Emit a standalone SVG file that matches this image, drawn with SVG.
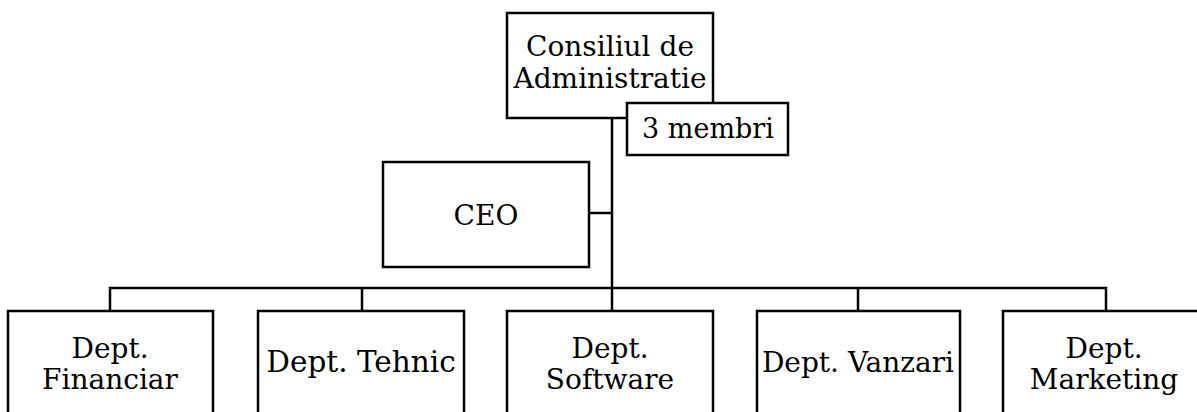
<svg xmlns="http://www.w3.org/2000/svg" width="1197" height="412" viewBox="0 0 1197 412">
<style>
.box{fill:#fff;stroke:#000;stroke-width:2.5}
.ln{fill:none;stroke:#000;stroke-width:2.5}
text{font-family:"DejaVu Serif","Liberation Serif",serif;fill:#000;text-anchor:middle}
.t{font-size:28px}
.w{font-size:29.5px}
.s{font-size:27px}
</style>
<rect width="1197" height="412" fill="#fff"/>
<g id="connectors">
<path class="ln" d="M612,118 V311"/>
<path class="ln" d="M589,213 H612"/>
<path class="ln" d="M110,311 V288 H1106 V311"/>
<path class="ln" d="M362,288 V311"/>
<path class="ln" d="M858,288 V311"/>
</g>
<g id="consiliu">
<rect class="box" x="507" y="13" width="206" height="105"/>
<text class="t" x="610" y="56">Consiliul de</text>
<text class="t" x="610" y="88">Administratie</text>
</g>
<g id="membri">
<rect class="box" x="627" y="103" width="161" height="52"/>
<text class="s" x="708" y="138">3 membri</text>
</g>
<g id="ceo">
<rect class="box" x="383" y="162" width="206" height="105"/>
<text class="t" x="486" y="225">CEO</text>
</g>
<g id="financiar">
<rect class="box" x="8" y="311" width="205" height="120"/>
<text class="t" x="110" y="358">Dept.</text>
<text class="t" x="110" y="389">Financiar</text>
</g>
<g id="tehnic">
<rect class="box" x="258" y="311" width="206" height="120"/>
<text class="w" x="361" y="372">Dept. Tehnic</text>
</g>
<g id="software">
<rect class="box" x="507" y="311" width="206" height="120"/>
<text class="t" x="610" y="358">Dept.</text>
<text class="t" x="610" y="389">Software</text>
</g>
<g id="vanzari">
<rect class="box" x="757" y="311" width="203" height="120"/>
<text class="t" x="858" y="372">Dept. Vanzari</text>
</g>
<g id="marketing">
<rect class="box" x="1003" y="311" width="210" height="120"/>
<text class="t" x="1104" y="358">Dept.</text>
<text class="t" x="1104" y="389">Marketing</text>
</g>
</svg>
